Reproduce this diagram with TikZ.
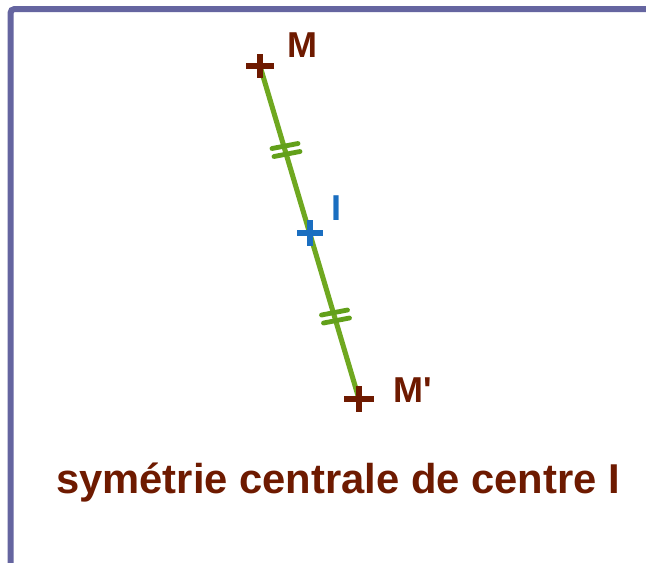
\documentclass[tikz,border=0pt]{standalone}
\usepackage{fontspec}
\setmainfont{Liberation Sans}
\usetikzlibrary{calc}
\definecolor{framec}{HTML}{6565A0}
\definecolor{brownc}{HTML}{6E1A00}
\definecolor{bluec}{HTML}{1A6EC0}
\definecolor{greenc}{HTML}{6FA820}
\definecolor{tickc}{HTML}{62A01A}
\tikzset{
  crossmark/.style={line width=4.1pt},
  seg/.style={greenc, line width=3.8pt},
  tickmark/.style={tickc, line width=3.6pt, line cap=round},
  lbl/.style={font=\bfseries\fontsize{27}{30}\selectfont, inner sep=0pt},
}
\begin{document}
\begin{tikzpicture}[x=0.75pt,y=-0.75pt]
\useasboundingbox (0,0) rectangle (646,562);
\fill[white] (0,0) rectangle (646,562);
\draw[framec, line width=4.5pt, rounded corners=3pt] (10.5,660) -- (10.5,9) -- (700,9);
% points
\coordinate (M) at (260,66);
\coordinate (I) at (310,233);
\coordinate (Mp) at (359,399);
\draw[seg] (M) -- (Mp);
% tick marks
\coordinate (T1) at ($(M)!0.5!(I)$);
\coordinate (T2) at ($(I)!0.5!(Mp)$);
\foreach \t in {T1,T2}{
  \begin{scope}[shift={(\t)}]
    \draw[tickmark] (-13,-1) -- (13,-6);
    \draw[tickmark] (-11,7) -- (15,2);
  \end{scope}
}
% crosses
\draw[crossmark, brownc] ($(M)+(-14,0)$) -- ($(M)+(14,0)$) ($(M)+(0,-12)$) -- ($(M)+(0,12)$);
\draw[crossmark, bluec] ($(I)+(-13,0)$) -- ($(I)+(13,0)$) ($(I)+(0,-13)$) -- ($(I)+(0,13)$);
\draw[crossmark, brownc] ($(Mp)+(-15,0)$) -- ($(Mp)+(15,0)$) ($(Mp)+(0,-13)$) -- ($(Mp)+(0,13)$);
% labels
\node[lbl, text=brownc] (lM) at (302,45) {M};
\node[lbl, text=bluec] (lI) at (336,208) {I};
\node[lbl, text=brownc] (lMp) at (413,390) {M\textquotesingle};
\node[lbl, text=brownc, anchor=base, font=\bfseries\fontsize{31.3}{34}\selectfont] (title) at (338,493) {symétrie centrale de centre I};
\end{tikzpicture}
\end{document}
